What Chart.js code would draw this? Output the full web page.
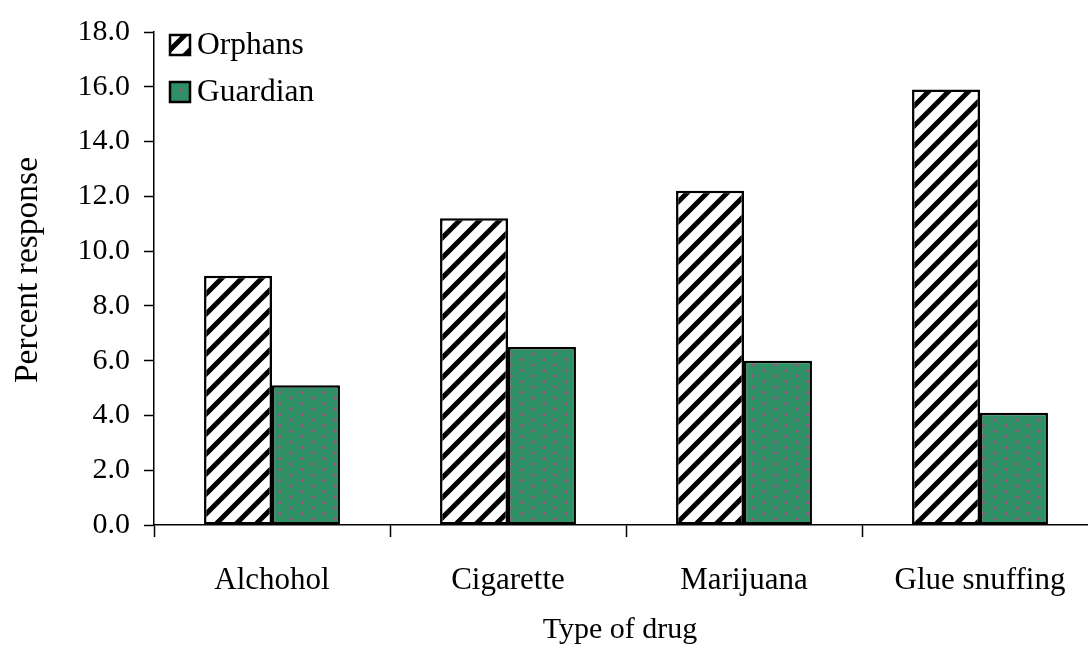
<!DOCTYPE html>
<html>
<head>
<meta charset="utf-8">
<script src="https://cdn.jsdelivr.net/npm/chart.js@4/dist/chart.umd.min.js"></script>
<style>
  html, body { margin: 0; padding: 0; background: #fff; overflow: hidden; }
  #wrap { position: relative; width: 1100px; height: 648px; }
</style>
</head>
<body>
<div id="wrap"><canvas id="c"></canvas></div>
<script>
// Survey results: percent of respondents reporting use, by drug type
const categories = ['Alchohol', 'Cigarette', 'Marijuana', 'Glue snuffing'];
const orphans = [9.1, 11.2, 12.2, 15.9];
const guardian = [5.1, 6.5, 6.0, 4.1];
const seriesNames = ['Orphans', 'Guardian'];
const yTicks = [0, 2, 4, 6, 8, 10, 12, 14, 16, 18];

const FONT = '"Liberation Serif", "Times New Roman", serif';

// Diagonal black stripes on white
function hatchPattern() {
  const s = 20;
  const cv = document.createElement('canvas');
  cv.width = s; cv.height = s;
  const g = cv.getContext('2d');
  g.fillStyle = '#fff';
  g.fillRect(0, 0, s, s);
  g.strokeStyle = '#000';
  g.lineWidth = 5;
  g.beginPath();
  for (let k = -1; k <= 1; k++) {
    g.moveTo(k * s - 2, s + 2);
    g.lineTo(k * s + s + 2, -2);
  }
  g.stroke();
  return g.createPattern(cv, 'repeat');
}

// Green fill with staggered purple dots
function dotPattern() {
  const w = 22, h = 11;
  const cv = document.createElement('canvas');
  cv.width = w; cv.height = h;
  const g = cv.getContext('2d');
  g.fillStyle = '#2f9066';
  g.fillRect(0, 0, w, h);
  g.fillStyle = '#a44e82';
  const dot = (x, y) => { g.beginPath(); g.arc(x, y, 1.6, 0, Math.PI * 2); g.fill(); };
  dot(5, 2);
  dot(16, 7.5);
  return g.createPattern(cv, 'repeat');
}

const hatch = hatchPattern();
const dots = dotPattern();
const fills = [hatch, dots];

// Legend and axis titles drawn in fixed spots
const overlay = {
  id: 'overlay',
  afterDraw(chart) {
    const ctx = chart.ctx;
    ctx.save();
    // legend
    ctx.font = `31.5px ${FONT}`;
    const rows = [45, 92];
    seriesNames.forEach((name, i) => {
      const y = rows[i];
      ctx.fillStyle = fills[i];
      ctx.fillRect(170, y - 10, 20, 20);
      ctx.strokeStyle = '#000';
      ctx.lineWidth = 2.5;
      ctx.strokeRect(170, y - 10, 20, 20);
      ctx.fillStyle = '#000';
      ctx.textAlign = 'left';
      ctx.textBaseline = 'middle';
      ctx.fillText(name, 197, y + 1);
    });
    // x title
    ctx.font = `30px ${FONT}`;
    ctx.textAlign = 'center';
    ctx.textBaseline = 'middle';
    ctx.fillText('Type of drug', 620, 630);
    // y title
    ctx.font = `33.5px ${FONT}`;
    ctx.translate(28, 270);
    ctx.rotate(-Math.PI / 2);
    ctx.fillText('Percent response', 0, 0);
    ctx.restore();
  }
};

new Chart(document.getElementById('c'), {
  type: 'bar',
  data: {
    labels: categories,
    datasets: [
      { label: seriesNames[0], data: orphans, backgroundColor: hatch },
      { label: seriesNames[1], data: guardian, backgroundColor: dots }
    ]
  },
  options: {
    responsive: true,
    maintainAspectRatio: false,
    animation: false,
    devicePixelRatio: 1,
    layout: { padding: { top: 31, right: 2, left: 0, bottom: 0 } },
    datasets: {
      bar: {
        borderColor: '#000',
        borderWidth: 2.5,
        borderSkipped: false,
        barPercentage: 1.0,
        categoryPercentage: 0.576
      }
    },
    plugins: {
      legend: { display: false },
      tooltip: { enabled: false }
    },
    scales: {
      x: {
        offset: true,
        grid: {
          offset: true,
          drawOnChartArea: false,
          drawTicks: true,
          tickLength: 12,
          tickWidth: 1.5,
          tickColor: '#000'
        },
        border: { display: true, color: '#000', width: 1.5 },
        ticks: {
          color: '#000',
          font: { family: FONT, size: 31 },
          padding: 25,
          maxRotation: 0
        },
        afterFit(scale) { scale.height = 123; }
      },
      y: {
        min: 0,
        max: 18,
        afterBuildTicks(scale) { scale.ticks = yTicks.map(v => ({ value: v })); },
        grid: {
          drawOnChartArea: false,
          drawTicks: true,
          tickLength: 10,
          tickWidth: 1.5,
          tickColor: '#000'
        },
        border: { display: true, color: '#000', width: 1.5 },
        ticks: {
          color: '#000',
          font: { family: FONT, size: 30 },
          padding: 14,
          callback: v => Number(v).toFixed(1)
        },
        afterFit(scale) { scale.width = 154; }
      }
    }
  },
  plugins: [overlay]
});
</script>
</body>
</html>
